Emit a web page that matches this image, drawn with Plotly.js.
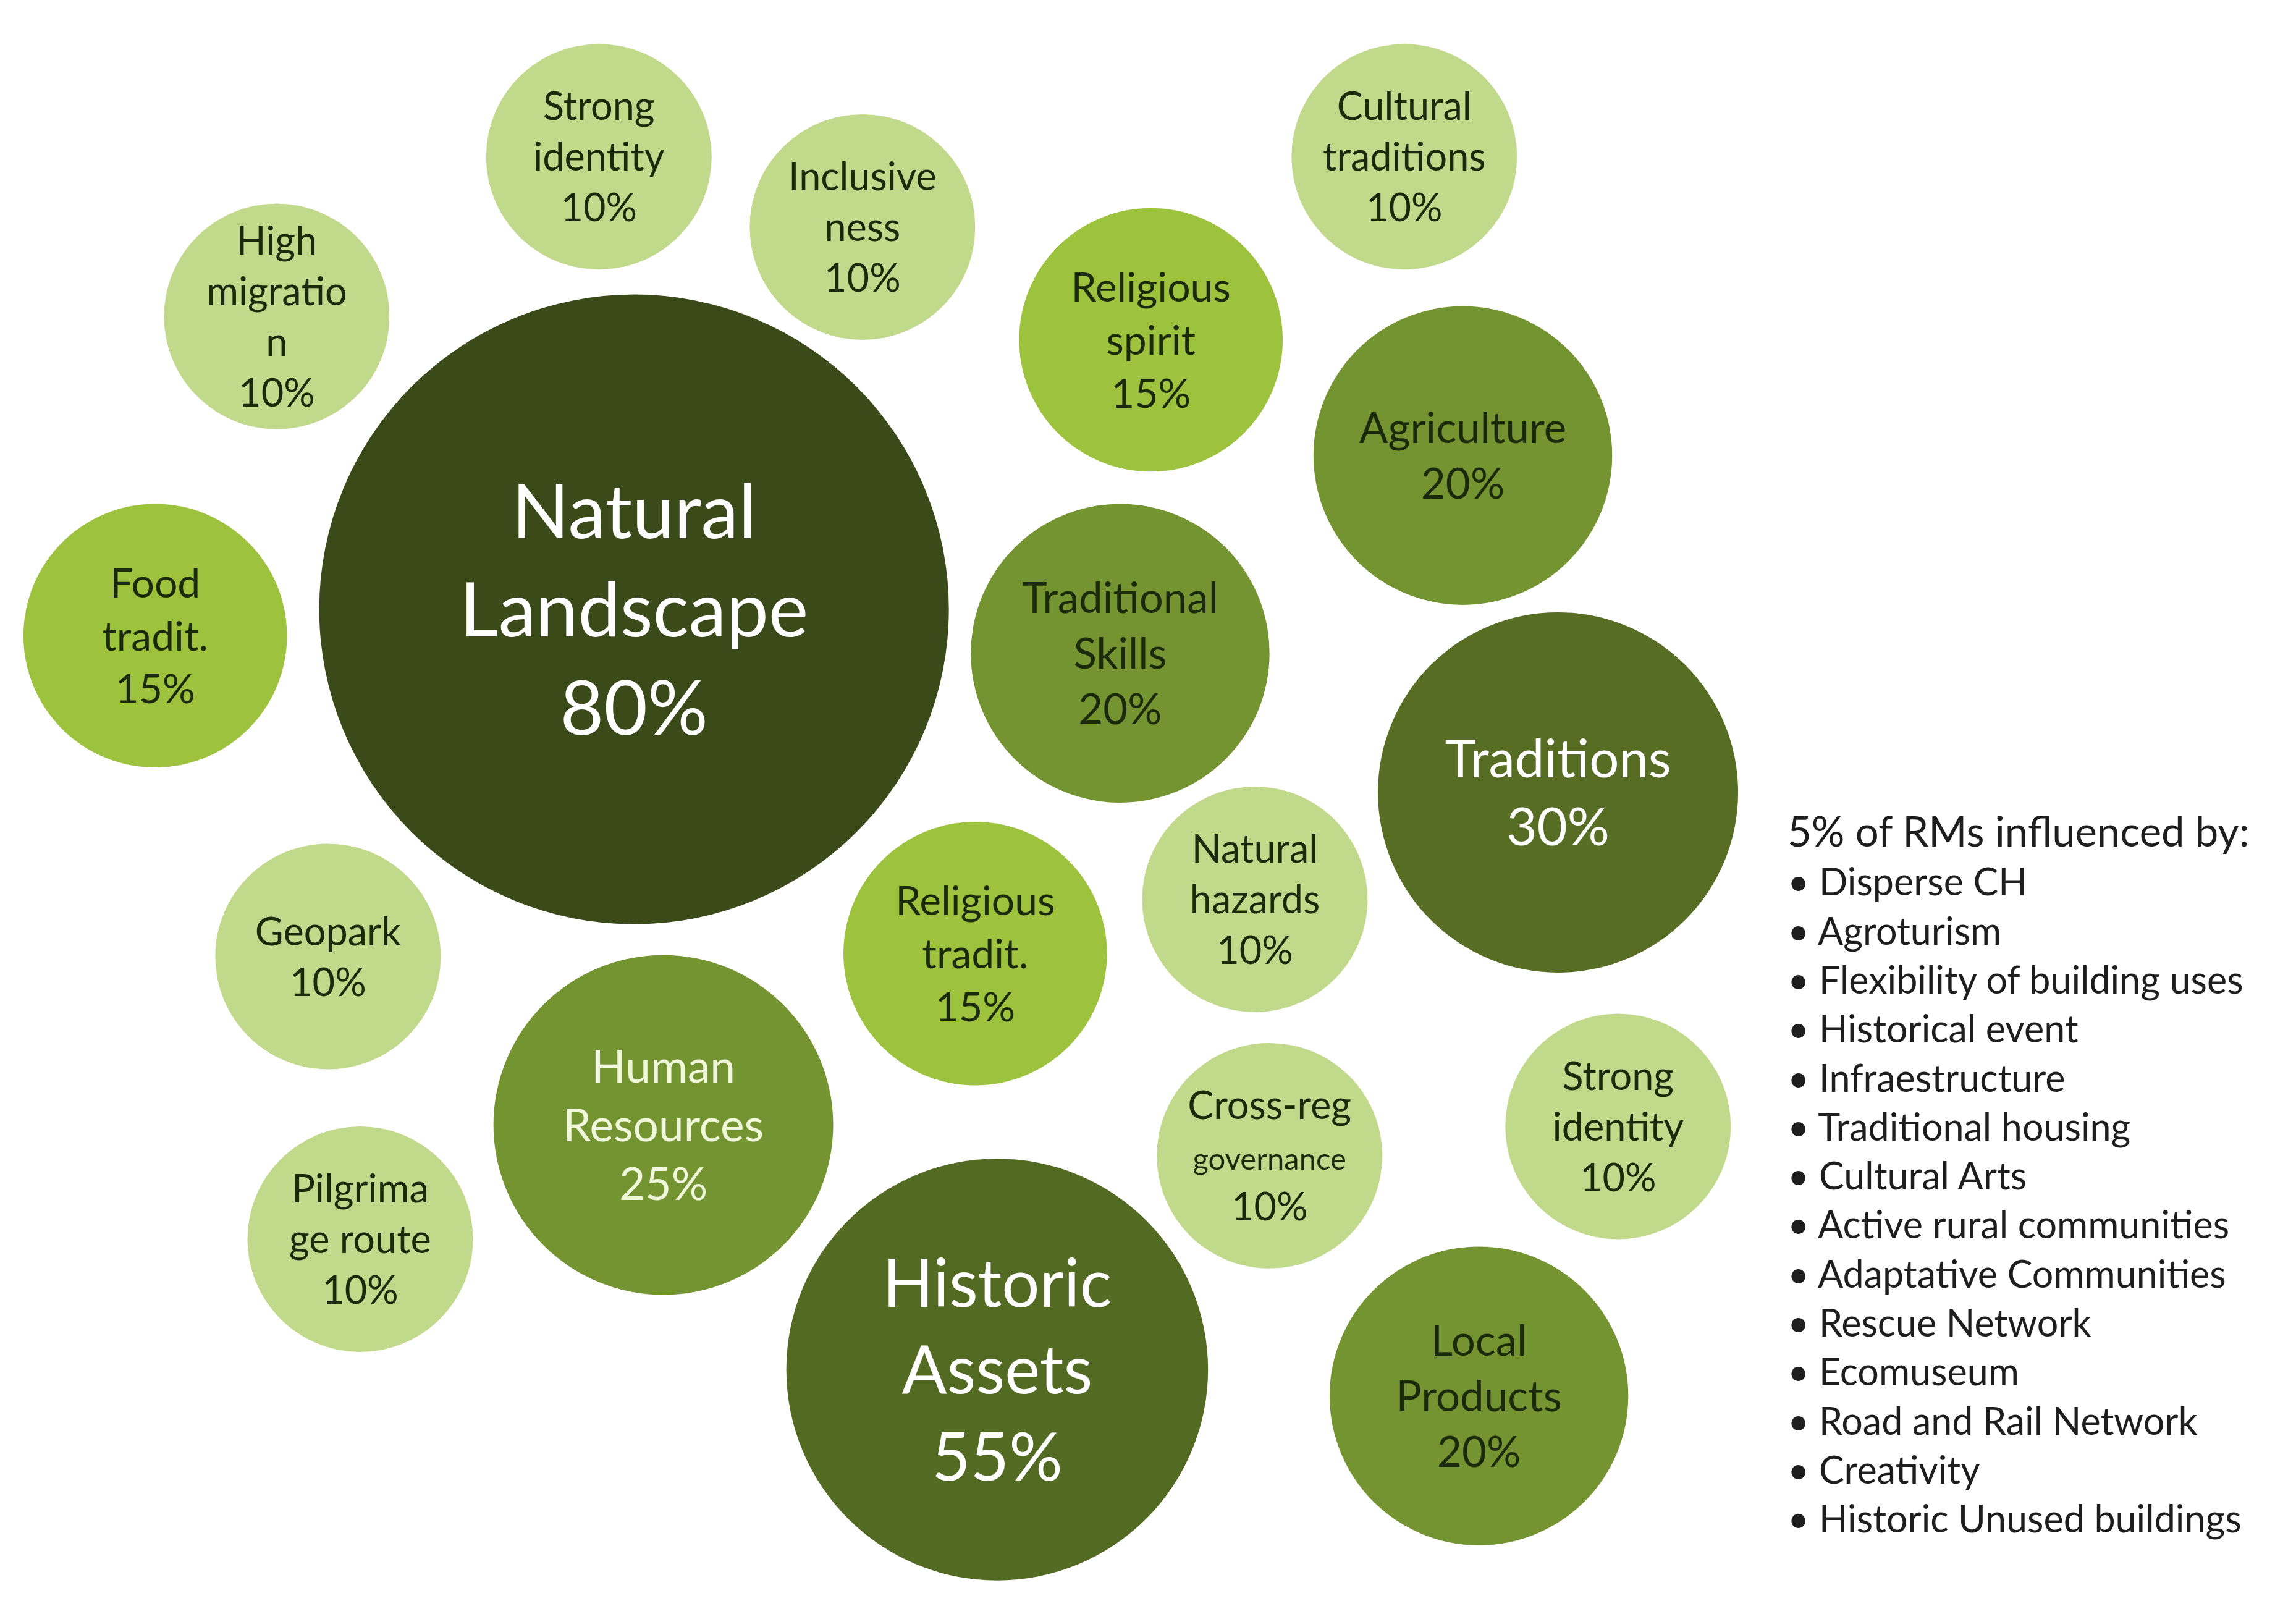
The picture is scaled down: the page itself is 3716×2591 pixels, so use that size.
<!DOCTYPE html>
<html>
<head>
<meta charset="utf-8">
<script src="https://cdn.plot.ly/plotly-3.0.1.min.js"></script>
<style>
  html, body { margin: 0; padding: 0; background: #ffffff; }
  #chart { width: 3716px; height: 2591px; }
</style>
</head>
<body>
<div id="chart"></div>
<script>
// ---- data ----
const categories = [
  "Natural<br>Landscape", "Historic<br>Assets", "Traditions", "Human<br>Resources",
  "Agriculture", "Traditional<br>Skills", "Local<br>Products",
  "Religious<br>spirit", "Food<br>tradit.", "Religious<br>tradit.",
  "Strong<br>identity", "Inclusive<br>ness", "High<br>migratio<br>n", "Cultural<br>traditions",
  "Geopark", "Pilgrima<br>ge route", "Natural<br>hazards",
  "Cross-reg<br><span style='font-size:49px'>governance</span>", "Strong<br>identity"
];
const values = [80, 55, 30, 25, 20, 20, 20, 15, 15, 15, 10, 10, 10, 10, 10, 10, 10, 10, 10];
// bubble centres in the layout (layout units)
const bubbleX = [433, 681, 1064, 453, 999, 765, 1010, 786, 106, 666, 409, 589, 189, 959, 224, 246, 857, 867, 1105];
const bubbleY = [416, 935, 541, 768, 311, 446, 953, 232, 434, 651, 107, 155, 216, 107, 653, 846, 614, 789, 769];

const legendTitle = "5% of RMs influenced by:";
const legendItems = [
  "Disperse CH", "Agroturism", "Flexibility of building uses", "Historical event",
  "Infraestructure", "Traditional housing", "Cultural Arts", "Active rural communities",
  "Adaptative Communities", "Rescue Network", "Ecomuseum", "Road and Rail Network",
  "Creativity", "Historic Unused buildings"
];

// ---- styles (value -> appearance scales) ----
const radiusScale = {10: 77, 15: 90, 20: 102, 25: 116, 30: 123, 55: 144, 80: 215};
const fillScale   = {10: "#c0d98a", 15: "#9cc23e", 20: "#739430", 25: "#739430", 30: "#566d23", 55: "#526a22", 80: "#3b4a19"};
const fontScale   = {10: 63, 15: 66, 20: 69, 25: 73, 30: 85, 55: 108, 80: 122};
const textColScale= {10: "#1b2a0c", 15: "#1b2a0c", 20: "#1b2a0c", 25: "#f0f7da", 30: "#ffffff", 55: "#ffffff", 80: "#ffffff"};
const FONT = "Lato, 'Open Sans', sans-serif";

const W = 3716, H = 2591, UX = 1568, UY = 1093;
const pxPerUnit = W / UX;
const textDrop = 0.11; // baseline nudge, fraction of font size

const bubbles = {
  type: "scatter",
  mode: "markers",
  x: bubbleX,
  y: bubbleY,
  hoverinfo: "skip",
  marker: {
    size: values.map(v => 2 * radiusScale[v] * pxPerUnit),
    sizemode: "diameter",
    color: values.map(v => fillScale[v]),
    line: { width: 0 },
    opacity: 1
  },
  cliponaxis: false
};

const labels = {
  type: "scatter",
  mode: "text",
  x: bubbleX,
  y: bubbleY.map((y, i) => y + textDrop * fontScale[values[i]] / pxPerUnit),
  text: categories.map((c, i) => c + "<br>" + values[i] + "%"),
  textposition: "middle center",
  hoverinfo: "skip",
  textfont: {
    family: FONT,
    size: values.map(v => fontScale[v]),
    color: values.map(v => textColScale[v])
  },
  cliponaxis: false
};

const legendText = "<span style='font-size:67px'>" + legendTitle + "</span><br>" +
  legendItems.map(s => "•\u00a0" + s).join("<br>");

const layout = {
  width: W, height: H,
  margin: { l: 0, r: 0, t: 0, b: 0, pad: 0 },
  paper_bgcolor: "#ffffff",
  plot_bgcolor: "#ffffff",
  showlegend: false,
  xaxis: { range: [0, UX], visible: false, fixedrange: true },
  yaxis: { range: [UY, 0], visible: false, fixedrange: true },
  annotations: [{
    x: 1220, y: 801, xref: "x", yref: "y",
    xanchor: "left", yanchor: "middle",
    align: "left", showarrow: false,
    text: legendText,
    font: { family: FONT, size: 61, color: "#1e1e1e" }
  }]
};

Plotly.newPlot("chart", [bubbles, labels], layout, { staticPlot: true, displayModeBar: false });
</script>
</body>
</html>
